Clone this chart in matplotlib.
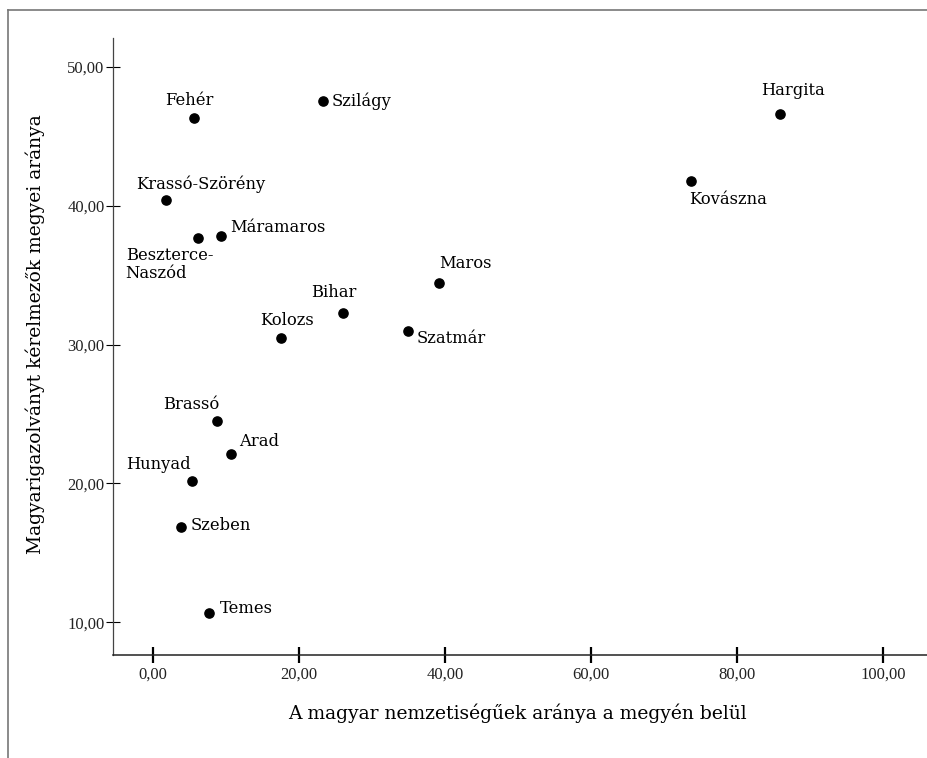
"""
Magyarigazolvány kérelmezők aránya vs. magyar nemzetiségűek aránya
megyénként -- scatter chart.
"""

import matplotlib

matplotlib.use("Agg")

import matplotlib.pyplot as plt
from matplotlib.lines import Line2D


# =====================================================
# DATA
# =====================================================

counties = [
    "Fehér", "Szilágy", "Hargita", "Kovászna", "Krassó-Szörény",
    "Beszterce-\nNaszód", "Máramaros", "Maros", "Bihar", "Szatmár",
    "Kolozs", "Brassó", "Arad", "Hunyad", "Szeben", "Temes",
]

hungarian_share = [
    5.6, 23.2, 85.8, 73.6, 1.8,
    6.1, 9.3, 39.2, 26.0, 34.9,
    17.5, 8.7, 10.7, 5.3, 3.8, 7.7,
]

applicant_share = [
    46.3, 47.5, 46.6, 41.8, 40.4,
    37.7, 37.8, 34.4, 32.3, 31.0,
    30.5, 24.5, 22.1, 20.2, 16.9, 10.7,
]

x_ticks = [0, 20, 40, 60, 80, 100]
y_ticks = [10, 20, 30, 40, 50]

# label placement: (dx, dy) in pixels, horizontal alignment
label_pos = [
    ((-5, 18), "center"), ((9, 0), "left"), ((13, 23), "center"),
    ((-2, -19), "left"), ((34, 16), "center"), ((-72, -27), "left"),
    ((9, 9), "left"), ((0, 20), "left"), ((-9, 20), "center"),
    ((9, -8), "left"), ((6, 17), "center"), ((3, 16), "right"),
    ((8, 13), "left"), ((-1, 16), "right"), ((10, 1), "left"),
    ((10, 4), "left"),
]


def fmt(value):
    return f"{value:.2f}".replace(".", ",")


# =====================================================
# FIGURE
# =====================================================

figure = plt.figure(figsize=(9.28, 7.58), dpi=100)

ax = figure.add_axes([113 / 928, 1 - 655 / 758, 1 - 113 / 928, (655 - 38) / 758])

ax.scatter(
    hungarian_share,
    applicant_share,
    s=44,
    color="black",
    zorder=3,
)

for name, x, y, (offset, ha) in zip(counties, hungarian_share, applicant_share, label_pos):
    ax.annotate(
        name,
        (x, y),
        xytext=offset,
        textcoords="offset pixels",
        ha=ha,
        va="center",
        fontsize=11.8,
        family="DejaVu Serif",
        linespacing=1.05,
    )

ax.set_xlim(-5.5, 106.1)
ax.set_ylim(7.65, 52.07)

ax.set_xticks(x_ticks)
ax.set_yticks(y_ticks)
ax.set_xticklabels([fmt(v) for v in x_ticks], family="Liberation Serif", fontsize=12)
ax.set_yticklabels([fmt(v) for v in y_ticks], family="Liberation Serif", fontsize=12)

ax.tick_params(axis="x", direction="inout", length=11, width=1.6, pad=3, colors="black")
ax.tick_params(axis="y", direction="inout", length=10, width=0.8, pad=1, colors="black")
ax.tick_params(axis="x", labelcolor="#222222")
ax.tick_params(axis="y", labelcolor="#222222")

ax.spines["top"].set_visible(False)
ax.spines["right"].set_visible(False)
ax.spines["left"].set_color("#444444")
ax.spines["left"].set_linewidth(0.9)
ax.spines["bottom"].set_color("#222222")
ax.spines["bottom"].set_linewidth(1.1)

ax.set_xlabel(
    "A magyar nemzetiségűek aránya a megyén belül",
    family="DejaVu Serif",
    fontsize=13.5,
    va="center",
)
ax.xaxis.set_label_coords((517.5 - 113) / 815, (655 - 713) / 617)

ax.set_ylabel(
    "Magyarigazolványt kérelmezők megyei aránya",
    family="DejaVu Serif",
    fontsize=13.5,
    va="center",
)
ax.yaxis.set_label_coords((35 - 113) / 815, (655 - 334) / 617)

# outer frame (top and left edges)
figure.add_artist(Line2D([8 / 928, 1], [1 - 10 / 758, 1 - 10 / 758], color="#777777", linewidth=1.2))
figure.add_artist(Line2D([8 / 928, 8 / 928], [0, 1 - 10 / 758], color="#777777", linewidth=1.2))

figure.savefig("out.png", dpi=100)
plt.close(figure)
